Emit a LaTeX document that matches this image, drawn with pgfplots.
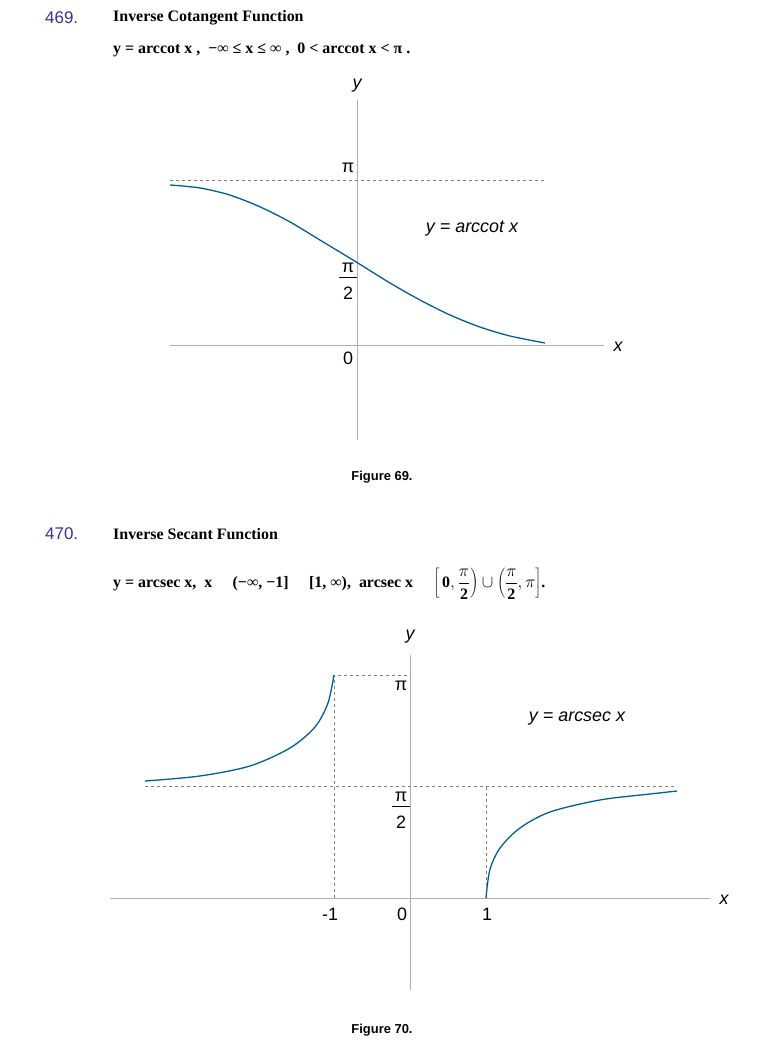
\documentclass[border=0pt]{standalone}
\usepackage{pgfplots}
\pgfplotsset{compat=1.18}
\usepackage{fontspec}
\setmainfont{Liberation Serif}
\newfontfamily\arial{Liberation Sans}
\definecolor{curve}{RGB}{0,94,150}
\definecolor{numblue}{RGB}{51,51,153}
\definecolor{axg}{RGB}{175,175,175}
\begin{document}
\begin{tikzpicture}[x=1bp,y=1bp]
\path (0,0) rectangle (765,1056);
\newcommand\T[3]{\node[anchor=west,inner sep=0] at (#1,1056-#2) {#3};}
\newcommand\C[3]{\node[inner sep=0] at (#1,1056-#2) {#3};}
% headers
\T{45}{18}{\arial\fontsize{17}{20}\selectfont\color{numblue}469.}
\T{113}{18}{\fontsize{16}{19}\selectfont\bfseries Inverse Cotangent Function}
\T{113}{50}{\fontsize{16}{19}\selectfont\bfseries y = arccot x ,\ \ −∞ ≤ x ≤ ∞ ,\ \ 0 < arccot x < π .}
\C{382}{477}{\arial\fontsize{13}{15}\selectfont\bfseries Figure 69.}
\T{45}{534}{\arial\fontsize{17}{20}\selectfont\color{numblue}470.}
\T{113}{534}{\fontsize{16}{19}\selectfont\bfseries Inverse Secant Function}
\T{113}{584}{\fontsize{16}{19}\selectfont\bfseries y = arcsec x,\ \ x ∈ (−∞, −1] ∪ [1, ∞),\ \ arcsec x ∈ $\displaystyle\left[\,\mathbf{0},\frac{\pi}{\mathbf{2}}\right)\cup\left(\frac{\pi}{\mathbf{2}},\pi\right]$.}
\C{382}{1030}{\arial\fontsize{13}{15}\selectfont\bfseries Figure 70.}
% figure 69 labels
\begin{scope}[font=\arial\fontsize{18}{20}\selectfont]
\C{357}{86}{\itshape y}
\C{618}{347}{\itshape x}
\C{348}{168}{π}
\C{348}{268}{π}
\draw[line width=0.6] (339,1056-277) -- (357-0,1056-277);
\C{348}{293}{2}
\C{348}{358}{0}
\C{472}{229}{\itshape y = arccot x}
% figure 70 labels
\C{410}{637}{\itshape y}
\C{724}{900}{\itshape x}
\C{401}{686}{π}
\C{401}{797}{π}
\draw[line width=0.6] (392,1056-806) -- (410,1056-806);
\C{401}{822}{2}
\C{330}{914}{-1}
\C{402}{914}{0}
\C{487}{914}{1}
\C{577}{719}{\itshape y = arcsec x}
\end{scope}
% Figure 69 axis
\begin{axis}[at={(357bp,711bp)},anchor=origin,x=93bp,y=52.52bp,hide axis,clip=false,
  xmin=-2.1,xmax=2.7,ymin=-1.9,ymax=4.7]
\addplot[axg,line width=0.7] coordinates {(-2.01,0)(2.66,0)};
\addplot[axg,line width=0.7] coordinates {(0,-1.81)(0,4.66)};
\addplot[gray,dashed,line width=0.6] coordinates {(-2.01,3.1416)(2.02,3.1416)};
\addplot[curve,line width=1.3,smooth] coordinates {(-2.01,3.046)(-1.69,2.99)(-1.37,2.856)(-1.04,2.628)(-0.72,2.342)(-0.40,2.0)(0,1.571)(0.355,1.180)(0.677,0.857)(1.0,0.571)(1.32,0.343)(1.645,0.171)(2.02,0.038)};
\end{axis}
% Figure 70 axis
\begin{axis}[at={(410bp,158bp)},anchor=origin,x=76bp,y=70.98bp,hide axis,clip=false,
  xmin=-4,xmax=4,ymin=-1.4,ymax=3.5]
\addplot[axg,line width=0.7] coordinates {(-3.947,0)(3.947,0)};
\addplot[axg,line width=0.7] coordinates {(0,-1.30)(0,3.42)};
\addplot[gray,dashed,line width=0.6] coordinates {(-3.487,1.5708)(3.513,1.5708)};
\addplot[gray,dashed,line width=0.6] coordinates {(-1,0)(-1,3.1416)(0,3.1416)};
\addplot[gray,dashed,line width=0.6] coordinates {(1,0)(1,1.5708)};
\addplot[curve,line width=1.3,smooth] coordinates {(-3.487,1.648)(-2.763,1.719)(-2.105,1.860)(-1.579,2.113)(-1.25,2.409)(-1.079,2.747)(-1,3.1416)};
\addplot[curve,line width=1.3,smooth] coordinates {(1,0)(1.05,0.394)(1.184,0.704)(1.447,0.986)(1.842,1.212)(2.5,1.381)(3.158,1.465)(3.513,1.507)};
\end{axis}
\end{tikzpicture}
\end{document}
